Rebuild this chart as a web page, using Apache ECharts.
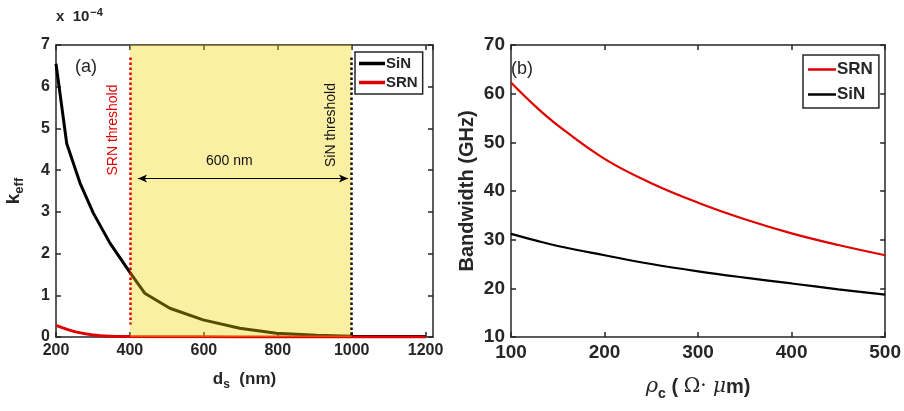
<!DOCTYPE html>
<html>
<head>
<meta charset="utf-8">
<script src="https://cdn.jsdelivr.net/npm/echarts@6/dist/echarts.min.js"></script>
<style>
  html, body { margin: 0; padding: 0; background: #fff; }
  #chart { width: 904px; height: 411px; }
</style>
</head>
<body>
<div id="chart"></div>
<script>
// panel (a): k_eff (x 1e-4) vs d_s (nm)
const dsSiN = [200, 229, 265, 301, 346, 400, 440, 508, 598, 697, 796, 905, 1000, 1100, 1200];
const keffSiN = [6.55, 4.64, 3.69, 2.97, 2.25, 1.55, 1.05, 0.69, 0.41, 0.21, 0.09, 0.04, 0.02, 0.01, 0.01];
const dsSRN = [200, 250, 300, 350, 400, 500, 600, 800, 1000, 1200];
const keffSRN = [0.28, 0.13, 0.05, 0.02, 0.01, 0.005, 0.003, 0.002, 0.001, 0.001];
const srnThreshold = 400;
const sinThreshold = 1000;
const spanArrow = [[422, 3.8], [990, 3.8]];

// panel (b): bandwidth (GHz) vs rho_c
const rhoC = [100, 125, 150, 200, 250, 300, 350, 400, 450, 500];
const bwSRN = [62.3, 57.6, 53.5, 46.6, 41.6, 37.6, 34.2, 31.3, 28.9, 26.8];
const bwSiN = [31.2, 29.9, 28.7, 26.8, 25.0, 23.5, 22.2, 21.0, 19.8, 18.7];

const ink = '#262626';
const font = 'Liberation Sans';

function zip(xs, ys) {
    return xs.map((x, i) => [x, ys[i]]);
}

function boxAxis(gridIndex, pos, min, max, interval, labelSize, showLabel) {
    return {
        type: 'value', gridIndex: gridIndex, position: pos,
        min: min, max: max, interval: interval,
        splitLine: {show: false},
        axisLine: {show: true, onZero: false, lineStyle: {color: ink, width: 1.5}},
        axisTick: {show: true, inside: true, length: 5, lineStyle: {color: ink, width: 1.5}},
        axisLabel: {
            show: showLabel, color: ink, fontFamily: font, fontWeight: 'bold',
            fontSize: labelSize, margin: 6, showMaxLabel: max % interval === 0,
            formatter: v => String(v)
        }
    };
}

let xa = boxAxis(0, 'bottom', 200, 1220, 200, 16, true);
xa.name = '{d|d}{s|s}{n|  (nm)}';
xa.nameLocation = 'middle';
xa.nameGap = 30;
xa.nameTextStyle = {
    rich: {
        d: {fontSize: 17, fontWeight: 'bold', fontFamily: font, color: ink},
        s: {fontSize: 12, fontWeight: 'bold', fontFamily: font, color: ink, padding: [12, 0, 0, 0]},
        n: {fontSize: 17, fontWeight: 'bold', fontFamily: font, color: ink}
    }
};
let ya = boxAxis(0, 'left', 0, 7, 1, 16, true);
ya.name = '{k|k}{s|eff}';
ya.nameLocation = 'middle';
ya.nameRotate = 90;
ya.nameGap = 30;
ya.nameTextStyle = {
    rich: {
        k: {fontSize: 19, fontWeight: 'bold', fontFamily: font, color: ink},
        s: {fontSize: 13, fontWeight: 'bold', fontFamily: font, color: ink, padding: [12, 0, 0, 0]}
    }
};

let xb = boxAxis(1, 'bottom', 100, 500, 100, 19, true);
xb.name = '{r|ρ}{c|c}{t| ( }{o|Ω· }{m|μ}{t|m)}';
xb.nameLocation = 'middle';
xb.nameGap = 36;
xb.nameTextStyle = {
    rich: {
        r: {fontSize: 21, fontStyle: 'italic', fontFamily: 'DejaVu Serif', color: ink},
        c: {fontSize: 14, fontWeight: 'bold', fontFamily: font, color: ink, padding: [14, 0, 0, 0]},
        t: {fontSize: 20, fontWeight: 'bold', fontFamily: font, color: ink},
        o: {fontSize: 20, fontFamily: 'DejaVu Serif', color: ink},
        m: {fontSize: 20, fontStyle: 'italic', fontFamily: 'DejaVu Serif', color: ink}
    }
};
let yb = boxAxis(1, 'left', 10, 70, 10, 19, true);
yb.name = 'Bandwidth (GHz)';
yb.nameLocation = 'middle';
yb.nameRotate = 90;
yb.nameGap = 34;
yb.nameTextStyle = {fontSize: 20, fontWeight: 'bold', fontFamily: font, color: ink};

const option = {
    backgroundColor: '#fff',
    animation: false,
    grid: [
        {left: 56, right: 471, top: 45, bottom: 74},
        {left: 511, right: 18, top: 45, bottom: 74}
    ],
    xAxis: [
        xa,
        boxAxis(0, 'top', 200, 1220, 200, 16, false),
        xb,
        boxAxis(1, 'top', 100, 500, 100, 19, false)
    ],
    yAxis: [
        ya,
        boxAxis(0, 'right', 0, 7, 1, 16, false),
        yb,
        boxAxis(1, 'right', 10, 70, 10, 19, false)
    ],
    legend: [
        {
            data: ['SiN', 'SRN'], orient: 'vertical', left: 355, top: 52,
            itemWidth: 26, itemHeight: 3.5, itemGap: 4, icon: 'rect',
            padding: [4, 5, 4, 4], borderColor: ink, borderWidth: 1.5,
            backgroundColor: '#fff',
            textStyle: {fontSize: 15, fontWeight: 'bold', fontFamily: font, color: ink, padding: [0, 0, 0, -4]}
        },
        {
            data: ['SRN', 'SiN'], orient: 'vertical', left: 803, top: 55,
            itemWidth: 28, itemHeight: 2.5, itemGap: 8, icon: 'rect',
            padding: [6, 6, 5, 5], borderColor: ink, borderWidth: 1.5,
            backgroundColor: '#fff',
            textStyle: {fontSize: 17, fontWeight: 'bold', fontFamily: font, color: ink, padding: [0, 0, 0, -4]}
        }
    ],
    series: [
        {
            name: 'SiN', type: 'line', xAxisIndex: 0, yAxisIndex: 0,
            data: zip(dsSiN, keffSiN), symbol: 'none', z: 2,
            lineStyle: {color: '#000', width: 3}, itemStyle: {color: '#000'}
        },
        {
            name: 'SRN', type: 'line', xAxisIndex: 0, yAxisIndex: 0, smooth: 0.3,
            data: zip(dsSRN, keffSRN), symbol: 'none', z: 3,
            lineStyle: {color: '#e00000', width: 3}, itemStyle: {color: '#e00000'}
        },
        {
            // shaded window between thresholds, dotted threshold lines and the span arrow
            type: 'line', xAxisIndex: 0, yAxisIndex: 0, data: [], z: 4,
            markArea: {
                silent: true, z: 4,
                itemStyle: {color: 'rgba(240,212,0,0.36)'},
                data: [[{xAxis: srnThreshold}, {xAxis: sinThreshold}]]
            },
            markLine: {
                silent: true, symbol: 'none', z: 6,
                label: {show: false},
                data: [
                    [{coord: [srnThreshold, 6.7], lineStyle: {color: '#e00000', type: [2.5, 2.5], width: 2.5}},
                     {coord: [srnThreshold, 0.3]}],
                    [{coord: [sinThreshold, 6.7], lineStyle: {color: '#111', type: [2.5, 2.5], width: 2.5}},
                     {coord: [sinThreshold, 0.02]}],
                    [{coord: spanArrow[0], symbol: 'arrow', symbolSize: [6, 9],
                      lineStyle: {color: '#000', type: 'solid', width: 1}},
                     {coord: spanArrow[1], symbol: 'arrow', symbolSize: [6, 9]}]
                ]
            }
        },
        {
            name: 'SRN', type: 'line', xAxisIndex: 2, yAxisIndex: 2, smooth: 0.4,
            data: zip(rhoC, bwSRN), symbol: 'none',
            lineStyle: {color: '#e00000', width: 2.2}, itemStyle: {color: '#e00000'}
        },
        {
            name: 'SiN', type: 'line', xAxisIndex: 2, yAxisIndex: 2, smooth: 0.4,
            data: zip(rhoC, bwSiN), symbol: 'none',
            lineStyle: {color: '#000', width: 2.2}, itemStyle: {color: '#000'}
        }
    ],
    graphic: [
        {
            type: 'text', left: 56, top: 7, z: 100,
            style: {
                text: '{a|x  10}{e|−4}',
                rich: {
                    a: {fontSize: 15, fontWeight: 'bold', fontFamily: font, fill: ink},
                    e: {fontSize: 11, fontWeight: 'bold', fontFamily: font, fill: ink, padding: [0, 0, 9, 1]}
                }
            }
        },
        {type: 'text', left: 75, top: 58, z: 100, style: {text: '(a)', fontSize: 18, fontFamily: font, fill: ink}},
        {type: 'text', left: 511, top: 60, z: 100, style: {text: '(b)', fontSize: 18, fontFamily: font, fill: ink}},
        {type: 'text', left: 206, top: 154, z: 100, style: {text: '600 nm', fontSize: 14, fontFamily: font, fill: '#111'}},
        {
            type: 'text', x: 113, y: 130, rotation: Math.PI / 2, z: 100,
            style: {text: 'SRN threshold', fontSize: 14, fontFamily: font, fill: '#e00000', align: 'center', verticalAlign: 'middle'}
        },
        {
            type: 'text', x: 331, y: 125, rotation: Math.PI / 2, z: 100,
            style: {text: 'SiN threshold', fontSize: 14, fontFamily: font, fill: '#111', align: 'center', verticalAlign: 'middle'}
        }
    ]
};

try {
    let chart = echarts.init(document.getElementById('chart'));
    chart.setOption(option);
} catch (err) {
    console.log(`Error drawing chart: ${err}`);
}
</script>
</body>
</html>
